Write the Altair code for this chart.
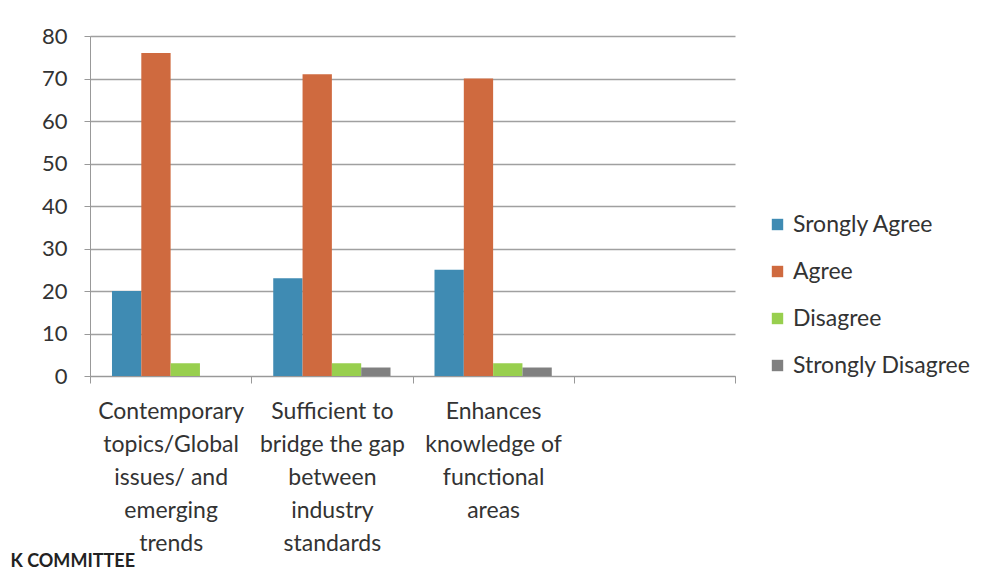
import altair as alt
import pandas as pd

categories = [
    "Contemporary|topics/Global|issues/ and|emerging|trends",
    "Sufficient to|bridge the gap|between|industry|standards",
    "Enhances|knowledge of|functional|areas",
]
empty_slot = "~"
series = ["Srongly Agree", "Agree", "Disagree", "Strongly Disagree"]
colors = ["#3f8bb3", "#cf6a3f", "#98cf4e", "#808080"]
strongly_agree = [20, 23, 25]
agree = [76, 71, 70]
disagree = [3, 3, 3]
strongly_disagree = [0, 2, 2]

rows = []
for i, c in enumerate(categories):
    for s, vals in zip(series, [strongly_agree, agree, disagree, strongly_disagree]):
        rows.append({"cat": c, "series": s, "value": vals[i]})
df = pd.DataFrame(rows)

FONT = "Lato"
TXT = "#333333"

chart = alt.Chart(df).mark_bar().encode(
    x=alt.X("cat:N", sort=None,
            scale=alt.Scale(domain=categories + [empty_slot], paddingInner=0, paddingOuter=0),
            axis=alt.Axis(title=None, labelAngle=0, tickBand="extent", tickSize=7,
                          labelExpr="datum.label == '~' ? '' : split(datum.label, '|')",
                          labelBaseline="top", labelLineHeight=33, labelPadding=17,
                          labelFontSize=23, labelFont=FONT, labelColor=TXT,
                          domainColor="#999999", tickColor="#999999", grid=False)),
    xOffset=alt.XOffset("series:N", sort=series,
                        scale=alt.Scale(domain=series, paddingInner=0, paddingOuter=0.75)),
    y=alt.Y("value:Q", scale=alt.Scale(domain=[0, 80]),
            axis=alt.Axis(title=None, values=list(range(0, 81, 10)), tickSize=6,
                          labelPadding=17, labelFontSize=22, labelFont=FONT, labelColor=TXT,
                          gridColor="#a0a0a0", gridWidth=1.3, domainColor="#999999",
                          tickColor="#999999")),
    color=alt.Color("series:N", sort=series,
                    scale=alt.Scale(domain=series, range=colors),
                    legend=alt.Legend(title=None, orient="none", legendX=676, legendY=177,
                                      symbolType="square", symbolSize=130, symbolStrokeWidth=0,
                                      labelFontSize=23, labelFont=FONT, labelColor=TXT,
                                      labelLimit=0, rowPadding=23, padding=0, labelOffset=4)),
).properties(
    width=645,
    height=340,
    autosize=alt.AutoSizeParams(type="none"),
    padding={"left": 82, "top": 28, "right": 251, "bottom": 199},
    title=alt.TitleParams("K COMMITTEE", orient="bottom", anchor="start", dx=-31, offset=-2,
                          fontSize=18, font=FONT, fontWeight="bold", color="#222222"),
).configure_view(stroke=None)

chart.save("out.html", embed_options={"renderer": "svg", "actions": False})
